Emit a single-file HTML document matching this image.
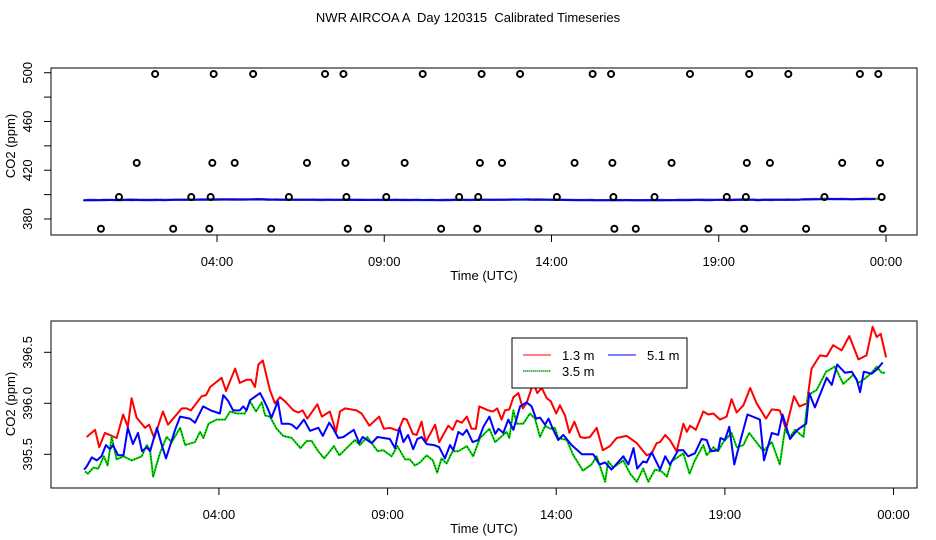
<!DOCTYPE html>
<html><head><meta charset="utf-8"><style>
html,body{margin:0;padding:0;background:#fff}
svg{display:block}
text{font-family:"Liberation Sans",sans-serif;fill:#000}
</style></head><body>
<svg id="chart" width="936" height="540" viewBox="0 0 936 540" xmlns="http://www.w3.org/2000/svg">
<rect width="936" height="540" fill="#fff"/>
<text x="468" y="22" font-size="13" text-anchor="middle" style="white-space:pre">NWR AIRCOA A  Day 120315  Calibrated Timeseries</text>
<g id="topPanel"></g>
<g id="botPanel"></g>
</svg>
<script>
const xTickHours=[4,9,14,19,24];
const xTickLabels=["04:00","09:00","14:00","19:00","00:00"];
const topYTicks=[380,400,420,440,460,480,500];
const topYLabels=[380,420,460,500];
const botYTicks=[395.5,396.0,396.5];
const botYLabels=["395.5","396.0","396.5"];

const redH=[0.08,0.33,0.45,0.62,0.97,1.16,1.30,1.41,1.56,1.81,1.93,2.08,2.34,2.49,2.90,3.04,3.17,3.49,3.62,3.74,4.08,4.21,4.48,4.62,4.82,4.95,5.07,5.17,5.30,5.51,5.66,5.81,5.96,6.21,6.35,6.48,6.62,6.92,7.05,7.29,7.47,7.59,7.74,8.08,8.23,8.46,8.75,8.89,9.07,9.32,9.47,9.57,9.75,9.86,10.01,10.13,10.41,10.53,10.80,10.93,11.05,11.20,11.35,11.49,11.62,11.72,11.99,12.13,12.25,12.38,12.48,12.61,12.73,12.88,13.01,13.12,13.32,13.44,13.57,13.72,13.84,14.00,14.11,14.26,14.39,14.54,14.71,14.85,15.00,15.20,15.38,15.59,15.79,16.09,16.39,16.68,16.83,16.98,17.08,17.23,17.37,17.57,17.77,17.87,17.97,18.14,18.36,18.51,18.66,18.86,19.05,19.20,19.35,19.55,19.75,19.94,20.22,20.39,20.63,20.81,21.05,21.21,21.43,21.57,21.82,22.02,22.21,22.46,22.69,22.96,23.20,23.38,23.50,23.62,23.78];
const redV=[395.67,395.74,395.57,395.71,395.66,395.89,395.77,396.05,395.86,395.76,395.79,395.66,395.92,395.79,395.95,395.95,395.93,396.07,396.08,396.16,396.25,396.12,396.34,396.20,396.23,396.23,396.16,396.38,396.42,396.13,396.00,396.06,396.02,395.93,395.91,395.93,395.85,395.99,395.87,395.92,395.72,395.92,395.95,395.93,395.90,395.78,395.87,395.75,395.76,395.73,395.85,395.84,395.70,395.69,395.82,395.62,395.79,395.62,395.78,395.74,395.83,395.81,395.87,395.75,395.75,395.97,395.93,395.92,395.95,395.84,395.93,395.94,396.06,396.10,395.95,396.00,396.20,396.10,396.15,396.05,396.02,395.90,395.98,395.88,395.71,395.82,395.67,395.66,395.67,395.76,395.54,395.58,395.66,395.68,395.61,395.49,395.51,395.61,395.62,395.69,395.64,395.53,395.80,395.72,395.78,395.74,395.92,395.89,395.90,395.84,395.87,396.04,395.91,395.98,396.15,396.00,395.85,395.94,395.93,395.75,396.07,395.97,396.00,396.34,396.47,396.46,396.57,396.52,396.66,396.43,396.47,396.75,396.65,396.68,396.45];

const blueH=[0.00,0.08,0.23,0.38,0.52,0.65,0.77,0.86,1.01,1.17,1.30,1.45,1.60,1.72,1.86,1.96,2.16,2.28,2.43,2.70,2.85,3.14,3.29,3.53,3.76,4.03,4.13,4.28,4.42,4.62,4.72,4.82,4.92,5.22,5.30,5.42,5.56,5.75,5.86,6.06,6.16,6.31,6.52,6.70,6.95,7.08,7.27,7.39,7.54,7.69,8.00,8.16,8.26,8.53,8.70,9.07,9.22,9.35,9.47,9.61,9.76,9.88,10.01,10.16,10.38,10.53,10.70,10.85,10.95,11.10,11.23,11.35,11.52,11.69,11.84,12.02,12.19,12.29,12.43,12.58,12.73,12.93,13.12,13.27,13.40,13.52,13.67,13.77,13.90,14.06,14.21,14.46,14.76,15.10,15.28,15.45,15.64,15.99,16.14,16.29,16.40,16.58,16.68,16.83,17.08,17.23,17.37,17.62,17.77,17.91,18.11,18.31,18.46,18.58,18.80,18.87,19.00,19.13,19.28,19.45,19.67,20.04,20.16,20.39,20.58,20.71,20.93,21.15,21.41,21.50,21.67,22.02,22.17,22.33,22.56,22.76,22.91,23.01,23.12,23.35,23.50,23.68];
const blueV=[395.35,395.38,395.47,395.44,395.48,395.59,395.55,395.59,395.49,395.49,395.76,395.60,395.71,395.53,395.57,395.53,395.76,395.62,395.46,395.74,395.87,395.85,395.81,395.97,395.93,395.90,396.08,396.02,395.93,395.93,395.97,395.93,396.03,396.10,396.05,395.97,395.86,396.02,395.80,395.80,395.79,395.75,395.84,395.73,395.76,395.68,395.81,395.75,395.66,395.67,395.74,395.61,395.67,395.61,395.67,395.65,395.56,395.76,395.62,395.69,395.55,395.65,395.67,395.60,395.59,395.57,395.46,395.59,395.54,395.72,395.69,395.74,395.62,395.64,395.77,395.87,395.70,395.75,395.71,395.84,395.74,395.97,396.01,395.97,395.85,395.86,395.79,395.85,395.75,395.64,395.69,395.59,395.50,395.50,395.40,395.42,395.35,395.48,395.40,395.56,395.36,395.43,395.42,395.52,395.35,395.48,395.40,395.54,395.54,395.48,395.51,395.65,395.64,395.53,395.54,395.66,395.64,395.77,395.40,395.62,395.89,395.84,395.44,395.71,395.69,395.89,395.65,395.74,395.80,396.10,395.96,396.25,396.18,396.38,396.30,396.31,396.23,396.11,396.31,396.29,396.33,396.40];

const greenH=[0.03,0.12,0.28,0.42,0.59,0.70,0.82,0.97,1.17,1.41,1.71,1.86,1.96,2.05,2.25,2.45,2.60,2.85,3.00,3.29,3.44,3.54,3.69,3.93,4.18,4.33,4.53,4.77,4.92,5.10,5.27,5.37,5.51,5.71,5.91,6.16,6.42,6.60,6.75,6.92,7.12,7.41,7.57,8.03,8.18,8.40,8.70,8.87,9.12,9.29,9.52,9.66,9.81,9.96,10.16,10.34,10.47,10.60,10.75,10.93,11.10,11.35,11.54,11.74,12.02,12.19,12.53,12.61,12.73,12.83,13.02,13.22,13.37,13.52,13.67,13.82,13.96,14.06,14.31,14.51,14.79,15.05,15.20,15.45,15.54,15.69,15.99,16.19,16.39,16.58,16.73,16.93,17.13,17.28,17.42,17.77,17.95,18.11,18.36,18.46,18.66,18.80,18.95,19.20,19.35,19.55,19.72,20.14,20.39,20.63,20.78,20.93,21.08,21.33,21.47,21.72,22.00,22.26,22.51,22.81,22.96,23.15,23.35,23.50,23.65,23.75];
const greenV=[395.33,395.31,395.37,395.36,395.48,395.39,395.67,395.45,395.48,395.44,395.48,395.59,395.54,395.28,395.51,395.67,395.62,395.76,395.59,395.62,395.72,395.66,395.80,395.84,395.84,395.92,395.90,395.90,396.02,395.92,396.01,395.88,395.87,395.75,395.68,395.66,395.56,395.63,395.63,395.54,395.46,395.58,395.49,395.64,395.59,395.67,395.53,395.54,395.48,395.58,395.45,395.45,395.39,395.42,395.49,395.44,395.32,395.46,395.41,395.53,395.53,395.58,395.48,395.66,395.75,395.62,395.72,395.66,395.93,395.80,395.80,395.90,395.85,395.67,395.78,395.75,395.76,395.66,395.64,395.49,395.34,395.40,395.48,395.23,395.43,395.37,395.44,395.31,395.23,395.36,395.23,395.35,395.33,395.28,395.43,395.51,395.31,395.44,395.59,395.49,395.57,395.53,395.62,395.71,395.57,395.59,395.71,395.53,395.62,395.40,395.74,395.67,395.74,395.67,396.08,396.13,396.31,396.36,396.19,396.28,396.20,396.24,396.30,396.36,396.30,396.30];

const flag499H=[2.15,3.90,5.08,7.23,7.78,10.15,11.91,13.06,15.23,15.78,18.14,19.91,21.08,23.22,23.77];
const flag426H=[1.60,3.86,4.53,6.69,7.84,9.61,11.86,12.52,14.69,15.82,17.59,19.84,20.53,22.69,23.82];
const flag398H=[1.07,3.23,3.81,6.15,7.87,9.06,11.24,11.81,14.16,15.85,17.08,19.24,19.81,22.16,23.87];
const flag372H=[0.53,2.69,3.77,5.62,7.91,8.52,10.70,11.78,13.61,15.88,16.52,18.69,19.76,21.61,23.90];
const flagLevels=[499,426,398,372];

const NS="http://www.w3.org/2000/svg";
function mk(tag,attrs,parent){const e=document.createElementNS(NS,tag);for(const k in attrs)e.setAttribute(k,attrs[k]);parent.appendChild(e);return e;}

const topX=h=>83.2+h*33.45;
const topY=v=>219-(v-380)*1.219;
const botX=h=>84+h*33.73;
const botY=v=>403.3-(v-396)*102;

function panel(g,box,xs,ys,yTicks,yLabels,yLabelVals,labY){
  const r=mk('rect',{x:box[0],y:box[1],width:box[2]-box[0],height:box[3]-box[1],fill:'none',stroke:'#000','stroke-width':1},g);
  
  
  xTickHours.forEach((h,i)=>{
    const l=mk('line',{x1:xs(h),x2:xs(h),y1:box[3],y2:box[3]+7,stroke:'#000'},g);
    
    
    const t=mk('text',{x:xs(h),y:box[3]+31,'font-size':13,'text-anchor':'middle'},g);
    t.textContent=xTickLabels[i];
    
    
  });
  yTicks.forEach(v=>{
    const l=mk('line',{x1:box[0]-7,x2:box[0],y1:ys(v),y2:ys(v),stroke:'#000'},g);
    
    
  });
  yLabelVals.forEach((v,i)=>{
    const t=mk('text',{x:0,y:0,'font-size':13,'text-anchor':'middle',transform:`translate(32,${ys(v)}) rotate(-90)`},g);
    t.textContent=yLabels[i];
    
    
  });
  const xt=mk('text',{x:484,y:box[3]+45,'font-size':13,'text-anchor':'middle'},g);
  xt.textContent='Time (UTC)';
  
  
  const yt=mk('text',{x:0,y:0,'font-size':13,'text-anchor':'middle',transform:`translate(15,${labY}) rotate(-90)`},g);
  yt.textContent='CO2 (ppm)';
  
  
}
function series(g,H,V,xs,ys,color,name,dotted){
  const d=H.map((h,i)=>(i?'L':'M')+xs(h).toFixed(1)+','+ys(V[i]).toFixed(1)).join('');
  const p=mk('path',{d:d,fill:'none',stroke:color,'stroke-width':2,'stroke-linejoin':'round'},g);
  
  
  if(dotted){
    const q=mk('path',{d:d,fill:'none',stroke:'#000','stroke-width':0.8,'stroke-dasharray':'1 2'},g);
    
    
  }
}
const topG=document.getElementById('topPanel'),botG=document.getElementById('botPanel');
panel(topG,[51,68,917,235],topX,topY,topYTicks,topYLabels,topYLabels,146);
panel(botG,[51,321,917,488],botX,botY,botYTicks,botYLabels,botYTicks,404);

series(topG,redH,redV,topX,topY,'#ff0000','series-1-3m-top');
series(topG,greenH,greenV,topX,topY,'#00dd00','series-3-5m-top');
series(topG,blueH,blueV,topX,topY,'#0000ff','series-5-1m-top');
[flag499H,flag426H,flag398H,flag372H].forEach((arr,k)=>{
  arr.forEach(h=>{
    const c=mk('circle',{cx:topX(h),cy:topY(flagLevels[k]),r:3,fill:'none',stroke:'#000','stroke-width':2},topG);
    
    
  });
});

series(botG,redH,redV,botX,botY,'#ff0000','series-1-3m');
series(botG,greenH,greenV,botX,botY,'#00dd00','series-3-5m',true);
series(botG,blueH,blueV,botX,botY,'#0000ff','series-5-1m');

const lg=mk('g',{},botG);


mk('rect',{x:512,y:338,width:175,height:50,fill:'#fff',stroke:'#000'},lg);
const entries=[[523,355,'#ff0000','1.3 m',false],[608,355,'#0000ff','5.1 m',false],[523,371,'#00dd00','3.5 m',true]];
entries.forEach(e=>{
  const ent=mk('g',{},lg);
  
  
  mk('line',{x1:e[0],x2:e[0]+28,y1:e[1],y2:e[1],stroke:e[2],'stroke-width':1},ent);
  if(e[4]) mk('line',{x1:e[0],x2:e[0]+28,y1:e[1],y2:e[1],stroke:'#000','stroke-width':0.7,'stroke-dasharray':'1 1'},ent);
  const t=mk('text',{x:e[0]+39,y:e[1]+5,'font-size':13},ent);
  t.textContent=e[3];
});
</script>
</body></html>
